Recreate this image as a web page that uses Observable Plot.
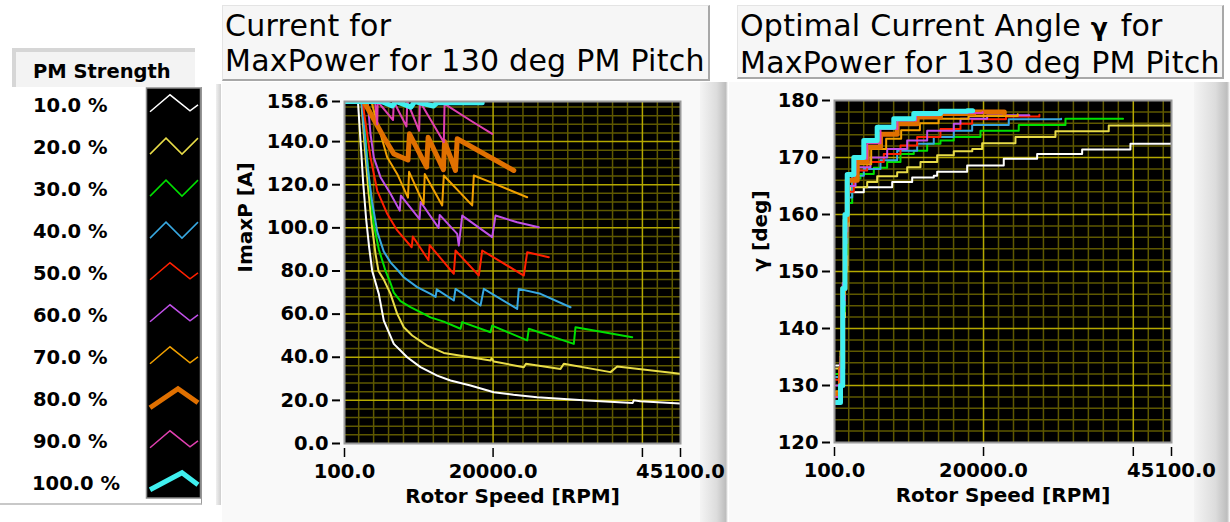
<!DOCTYPE html>
<html><head><meta charset="utf-8">
<script src="https://cdn.jsdelivr.net/npm/d3@7"></script>
<script src="https://cdn.jsdelivr.net/npm/@observablehq/plot@0.6"></script>
<style>
html,body{margin:0;padding:0;background:#fff;}
body{width:1230px;height:522px;overflow:hidden;position:relative;font-family:"DejaVu Sans",sans-serif;color:#000;}
.abs{position:absolute;}
.title{position:absolute;background:#f6f6f6;border-top:1px solid #e4e4e4;border-left:1px solid #e4e4e4;border-right:2px solid #a8a8a8;border-bottom:2px solid #a8a8a8;font-size:30px;letter-spacing:0.25px;line-height:35px;white-space:nowrap;box-sizing:border-box;padding-left:2px;padding-top:2px;}
.panel{position:absolute;background:#f9f9f9;}
.shade{position:absolute;background:linear-gradient(to right,#f4f4f4,#dcdcdc 60%,#bdbdbd 92%,#ffffff 100%);}
.leglab{position:absolute;left:33px;font-weight:bold;font-size:19.5px;line-height:20px;white-space:nowrap;}
</style></head><body>

<div class="panel" style="left:222px;top:82px;width:480px;height:440px"></div>
<div class="shade" style="left:700px;top:82px;width:28px;height:440px"></div>
<div class="panel" style="left:729px;top:82px;width:466px;height:440px"></div>
<div class="shade" style="left:1194px;top:82px;width:36px;height:440px"></div>

<div class="title" style="left:222px;top:5px;width:488px;height:76px">Current for<br>MaxPower for 130 deg PM Pitch</div>
<div class="title" style="left:737px;top:5px;width:487px;height:74px">Optimal Current Angle <b style="font-size:25px;letter-spacing:3px">γ</b> for<br>MaxPower for 130 deg PM Pitch</div>

<div class="abs" style="left:12px;top:48px;width:183px;height:39px;background:#f3f3f3;border-top:4px solid #d6d6d6;border-left:4px solid #d6d6d6;box-sizing:border-box"></div>
<div class="abs" style="left:33px;top:60px;font-weight:bold;font-size:19.5px;white-space:nowrap">PM Strength</div>
<div class="abs" style="left:0px;top:87px;width:201px;height:416px;border-right:1px solid #9a9a9a;border-bottom:2px solid #c8c8c8"></div>
<div class="abs" style="left:216px;top:84px;width:5px;height:421px;background:linear-gradient(to right,#f0f0f0,#cfcfcf)"></div>
<div id="legend"></div>
<div id="c1" class="abs" style="left:222px;top:88px"></div>
<div id="c2" class="abs" style="left:728px;top:88px"></div>

<script>
// ---------- data ----------
const seriesNames = ["10.0 %","20.0 %","30.0 %","40.0 %","50.0 %","60.0 %","70.0 %","80.0 %","90.0 %","100.0 %"];
const seriesColors = ["#ffffff","#e8dc48","#00e000","#38a8e0","#ff2000","#c050e8","#f0a000","#e07000","#e040b0","#40f0f0"];
const seriesWidths = [2,2,2,2,2,2,2,5,2,5];

const rpmTicks = [100, 20000, 40000, 45100];
const imaxTicks = [0, 20, 40, 60, 80, 100, 120, 140, 158.6];
const gammaTicks = [120, 130, 140, 150, 160, 170, 180];

// ImaxP [A] vs rotor speed [RPM]
const imax10 = [[100,158.6],[1900,158.6],[2250,140],[2600,121],[3000,104],[3400,91],[3810,80],[4694,69.4],[5363,57],[6703,46.2],[8497,40],[10279,35.4],[12515,31.5],[14297,29.2],[16976,26.9],[20096,23.8],[22734,22.6],[25909,21.5],[32605,19.9],[38700,18.8],[38850,20.0],[39700,19.6],[45100,18.5]];
const imax20 = [[100,158.6],[2350,158.6],[2800,138],[3300,117],[3800,100],[4252,88],[4650,80],[5363,76],[6261,69.4],[7158,60.1],[8042,53.9],[9167,50.1],[11176,45.4],[13399,42],[16975,40],[19654,38.5],[19800,39.5],[20100,38],[24113,35.4],[24400,37],[29029,34.6],[29470,37],[35725,33.1],[36623,35.7],[45100,32.3]];
const imax30 = [[100,158.6],[2550,158.6],[3000,138],[3500,118],[4000,102],[4700,90],[5600,80],[6200,75],[6703,70],[7600,66],[8939,63.2],[10721,60.1],[11618,58.5],[13399,56.5],[15636,53.2],[15864,56.3],[19654,51.6],[19881,54.7],[24568,47.8],[24783,53.2],[30810,46.2],[31037,53.9],[38632,49.3]];
const imax40 = [[100,158.6],[2400,158.6],[2750,145],[3200,128],[3800,112],[4500,98],[5363,89],[6261,84],[7330,80],[8042,77.1],[9837,72.5],[11618,69.4],[12300,68],[12450,71.5],[14739,66.3],[14966,71.7],[18315,64],[18756,71.7],[23229,62.4],[23443,71.7],[26350,69.4],[30368,63.2]];
const imax50 = [[100,158.6],[2600,158.6],[2685,154.4],[3582,132.7],[4480,117.3],[5819,106.5],[7158,98.8],[9100,91],[9250,96],[11350,85],[11500,92],[14739,78.7],[14966,89.5],[18087,77.9],[18542,89.5],[24113,77.9],[24568,88.7],[27461,86.4]];
const imax60 = [[100,158.6],[3200,158.6],[3582,143.6],[4024,132.7],[4921,123.5],[6261,115.8],[7500,108],[7650,115],[10150,104],[10300,112],[12700,100],[12850,106],[15194,97.2],[15408,91.8],[15864,105.7],[19881,95.7],[20323,105.7],[23229,102.6],[26121,100.3]];
const imax70 = [[100,158.6],[3700,158.6],[4024,154.4],[4921,143.6],[5819,132.7],[7158,125],[8600,114],[8750,126],[10700,111],[10850,125],[13185,110.4],[13399,124.3],[17203,110.4],[17417,124.3],[19654,121.2],[24568,114.2]];
const imax80 = [[100,158.6],[2700,158.6],[5363,142],[6703,134.3],[8600,131.5],[8800,143.6],[11100,128.2],[11300,142],[13350,127],[13500,140],[14966,126.6],[15194,141.3],[22774,126.6]];
const imax90 = [[100,158.6],[4200,158.6],[4480,148],[4550,158.6],[6600,150],[6700,158.6],[8400,147],[8500,158.6],[10100,145],[10200,158.6],[13400,139.7],[13500,157.5],[16975,149.8],[19881,143.6]];
const imax100 = [[100,158.6],[5000,158.6],[6500,156.5],[7000,158.6],[9000,156],[9500,158.6],[12000,156.5],[12500,158],[18542,158]];

// optimal current angle gamma [deg] vs rotor speed [RPM] (level starts)
const gamma10 = [[300,133.5],[900,135],[1200,142],[1500,151],[1795,163.9],[4012,164.8],[7803,165.7],[10473,166.5],[13357,166.8],[13810,167.5],[17815,168.6],[22702,169.8],[27160,170.6],[33168,171.4],[39616,172.4],[45100,172.5]];
const gamma20 = [[300,133],[900,136],[1200,142],[1500,150],[1800,158],[2000,164],[2236,164.8],[4465,165.7],[5800,166.7],[8470,167.4],[9805,168.3],[11581,169.2],[13810,170.4],[16027,171.1],[18500,171.5],[19818,172.5],[24264,173.6],[29604,174.6],[36719,175.6],[45100,175.7]];
const gamma30 = [[300,132],[900,135],[1200,143],[1500,153],[1800,162],[2463,166.3],[3571,167.1],[5347,168.2],[7135,169.2],[8911,170.6],[10687,171.2],[12476,172.4],[14251,173.0],[16027,173.6],[19591,174.7],[24704,175.7],[30939,176.8],[38632,176.8]];
const gamma40 = [[300,131.5],[900,135],[1200,144],[1500,155],[1800,163],[2463,166.8],[4012,168],[6241,169.5],[8470,171.2],[11140,172.4],[13357,173.6],[16027,174.7],[18483,175.7],[23369,176.7],[30368,176.8]];
const gamma50 = [[300,131],[900,135],[1200,145],[1500,156],[1800,164],[2677,167.7],[4465,169.2],[6682,170.6],[8911,172.1],[11140,173.6],[14251,175],[16921,175.9],[18483,176.7],[23000,177.2],[27461,177.5]];
const gamma60 = [[300,130],[900,134],[1200,145],[1500,157],[1800,165],[2904,168.3],[4906,170],[7135,171.5],[9805,173],[12476,174.7],[16027,175.9],[16921,176.8],[20486,177.4],[26121,177.4]];
const gamma70 = [[300,129],[900,133],[1200,146],[1500,158],[1800,166],[3131,168.8],[5000,171.5],[7000,173.3],[9000,174.8],[11500,176],[14000,176.8],[18000,177.3],[24568,177.6]];
const gamma80 = [[300,128.5],[900,133],[1200,147],[1500,159],[1800,166],[3131,169.2],[4465,171.8],[6241,174.1],[8470,175.9],[11140,177.1],[14251,177.7],[18696,178],[22774,177.8]];
const gamma90 = [[300,128],[900,133],[1200,148],[1500,160],[1800,167],[2904,169.8],[4465,172.5],[6241,175],[8500,176.5],[11000,177.4],[14000,177.8],[19881,178]];
const gamma100 = [[300,127],[900,130],[1200,147],[1500,160],[1800,167],[2677,170],[4012,173],[5800,175.3],[8017,176.8],[10687,177.7],[14251,178.1],[17815,178.2],[18542,178.2]];

const imaxSeries = [imax10,imax20,imax30,imax40,imax50,imax60,imax70,imax80,imax90,imax100];
const gammaSeries = [gamma10,gamma20,gamma30,gamma40,gamma50,gamma60,gamma70,gamma80,gamma90,gamma100];

// ---------- grid helpers ----------
const range = (a, b, s) => d3.range(a, b + s / 2, s);
const rpmMinor = range(2000, 44000, 2000).filter(d => d % 20000 !== 0);
const rpmMajor = [20000, 40000];

const GRID_MINOR = "#5e5800", GRID_MAJOR = "#b4a800";

function chart({series, yDomain, yTicks, yMinor, yMajor, yFormat, ylabel, ylabelDx, width, height, ml, mr, mt, mb, curve}) {
  const lines = series.map((s, i) => Plot.line(s, {x: d => d[0], y: d => d[1], stroke: seriesColors[i], strokeWidth: seriesWidths[i], curve, clip: true}));
  return Plot.plot({
    width, height, marginLeft: ml, marginRight: mr, marginTop: mt, marginBottom: mb,
    x: {domain: [100, 45100]},
    y: {domain: yDomain},
    style: {background: "transparent", fontFamily: "DejaVu Sans", fontWeight: "bold", fontSize: "19.5px", color: "#000", overflow: "visible"},
    marks: [
      Plot.frame({fill: "#000"}),
      Plot.ruleX(rpmMinor, {stroke: GRID_MINOR, strokeWidth: 1.5}),
      Plot.ruleY(yMinor, {stroke: GRID_MINOR, strokeWidth: 1.5}),
      Plot.ruleX(rpmMajor, {stroke: GRID_MAJOR, strokeWidth: 1.5}),
      Plot.ruleY(yMajor, {stroke: GRID_MAJOR, strokeWidth: 1.5}),
      ...lines,
      Plot.frame({stroke: "#9a9a9a", strokeWidth: 2}),
      Plot.axisY({ticks: yTicks, tickFormat: yFormat, tickSize: 8, tickPadding: 4, dx: -4, strokeWidth: 2, label: null}),
      Plot.axisX({ticks: rpmTicks, tickFormat: d => d === 40000 ? "" : d.toFixed(1), tickSize: 9, tickPadding: 7, dy: 5, strokeWidth: 1.5, label: null}),
      Plot.text([ylabel], {frameAnchor: "left", dx: ylabelDx, rotate: -90, fontSize: 20}),
      Plot.text(["Rotor Speed [RPM]"], {frameAnchor: "bottom", dy: 59, fontSize: 20})
    ]
  });
}

document.getElementById("c1").append(chart({
  series: imaxSeries, yDomain: [0, 158.6], yTicks: imaxTicks,
  yMinor: range(4, 156, 4).filter(d => d % 20 !== 0), yMajor: range(20, 140, 20),
  yFormat: d => d.toFixed(1), ylabel: "ImaxP [A]", ylabelDx: -99,
  width: 490, height: 430, ml: 122, mr: 32, mt: 13, mb: 75, curve: "linear"
}));

document.getElementById("c2").append(chart({
  series: gammaSeries, yDomain: [120, 180], yTicks: gammaTicks,
  yMinor: range(122, 178, 2).filter(d => d % 10 !== 0), yMajor: range(130, 170, 10),
  yFormat: d => String(d), ylabel: "γ [deg]", ylabelDx: -74,
  width: 490, height: 430, ml: 106, mr: 47, mt: 12, mb: 76, curve: "step-after"
}));

// ---------- legend ----------
const leg = d3.select("#legend");
const rowY = seriesNames.map((_, i) => 105.8 + i * 42);
seriesNames.forEach((n, i) => {
  leg.append("div").attr("class", "leglab").style("top", (rowY[i] - 10) + "px").style("left", i === 9 ? "32px" : "33px").text(n);
});
const svg = leg.append("svg").attr("class", "abs").style("left", "0px").style("top", "0px").attr("width", 210).attr("height", 522);
svg.append("rect").attr("x", 146.5).attr("y", 88).attr("width", 54).attr("height", 410).attr("fill", "#000").attr("stroke", "#8a8a8a").attr("stroke-width", 1.5);
const shapes = {
  peak: [[150, 6], [170, -11], [190, 5], [198, -1]],
  zig: [[150, 6.3], [166, -9.7], [182, 6.3], [198, -9.7]],
  thick80: [[150, 8], [178, -11], [198, 3]],
  thick100: [[150, 6], [182, -11], [198, 1]]
};
const shapeOf = ["peak", "zig", "zig", "zig", "peak", "peak", "peak", "thick80", "peak", "thick100"];
seriesNames.forEach((n, i) => {
  const pts = shapes[shapeOf[i]].map(([x, dy]) => [x, rowY[i] + dy]);
  svg.append("polyline").attr("points", pts.map(p => p.join(",")).join(" "))
    .attr("fill", "none").attr("stroke", seriesColors[i]).attr("stroke-width", seriesWidths[i] === 5 ? 5 : 1.5);
});
</script>
</body></html>
